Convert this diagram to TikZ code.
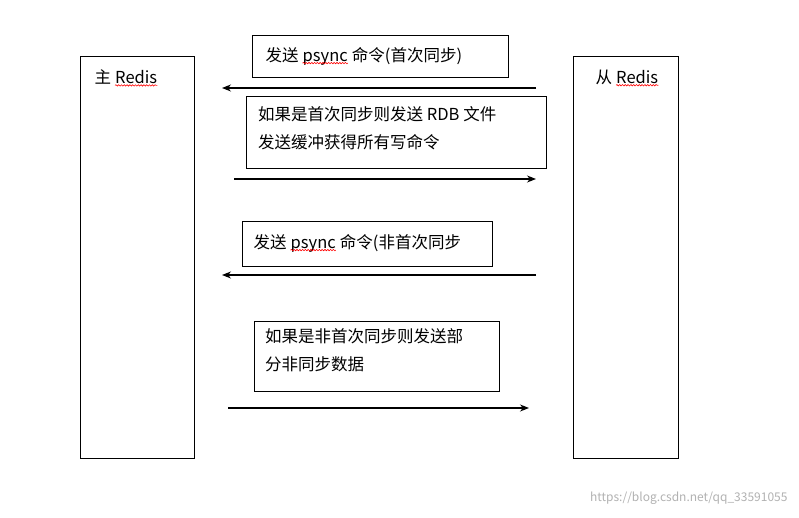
\documentclass[tikz,border=0pt]{standalone}
\usepackage{fontspec}
\setmainfont{Noto Sans CJK SC}
\usetikzlibrary{decorations.pathmorphing,arrows.meta}
\newcommand\wv[1]{\tikz[baseline=(wx.base),x=1cm,y=1cm]{\node[inner sep=0pt,draw=none,font=] (wx) {#1}; \draw[red,line width=0.6pt,decorate,decoration={snake,amplitude=0.7pt,segment length=2.8pt}] ([yshift=-2pt]wx.base west) -- ([yshift=-2pt]wx.base east);}}
\tikzset{lane/.style={draw,line width=1pt},
txt/.style={font=\fontsize{16.5pt}{28pt}\selectfont},
arr/.style={-{Stealth[length=9pt,width=7pt]},line width=1.1pt}}
\begin{document}
\begin{tikzpicture}[x=1pt,y=-1pt]
\useasboundingbox[fill=white] (0,0) rectangle (799,518);
\draw[lane] (80,57) rectangle (194,458);
\draw[lane] (573,57) rectangle (678,458);
\node[txt,anchor=west] (m) at (91,78) {主 \wv{Redis}};
\node[txt,anchor=west] (s) at (592,78) {从 \wv{Redis}};
\draw[lane] (252,36) rectangle (508,78);
\node[txt,anchor=west] (t1) at (262,56) {发送 \wv{psync} 命令(首次同步)};
\draw[lane] (246,97) rectangle (546,169);
\node[txt,anchor=north west,align=left,inner sep=0pt] (t2) at (258,106) {如果是首次同步则发送 RDB 文件\\发送缓冲获得所有写命令};
\draw[lane] (242,222) rectangle (492,266);
\node[txt,anchor=west] (t3) at (250,243) {发送 \wv{psync} 命令(非首次同步};
\draw[lane] (254,321) rectangle (499,391);
\node[txt,anchor=north west,align=left,inner sep=0pt] (t4) at (265,328) {如果是非首次同步则发送部\\分非同步数据};
\coordinate (a1) at (536,88); \coordinate (b1) at (222,88);
\coordinate (a2) at (234,179); \coordinate (b2) at (536,179);
\coordinate (a3) at (536,275); \coordinate (b3) at (222,275);
\coordinate (a4) at (228,408); \coordinate (b4) at (529,408);
\draw[arr] (a1)--(b1); \draw[arr] (a2)--(b2); \draw[arr] (a3)--(b3); \draw[arr] (a4)--(b4);
\node[anchor=east,text=gray!60,font=\fontsize{12pt}{14pt}\selectfont] (w) at (791,498) {https://blog.csdn.net/qq\_33591055};
\end{tikzpicture}
\end{document}
